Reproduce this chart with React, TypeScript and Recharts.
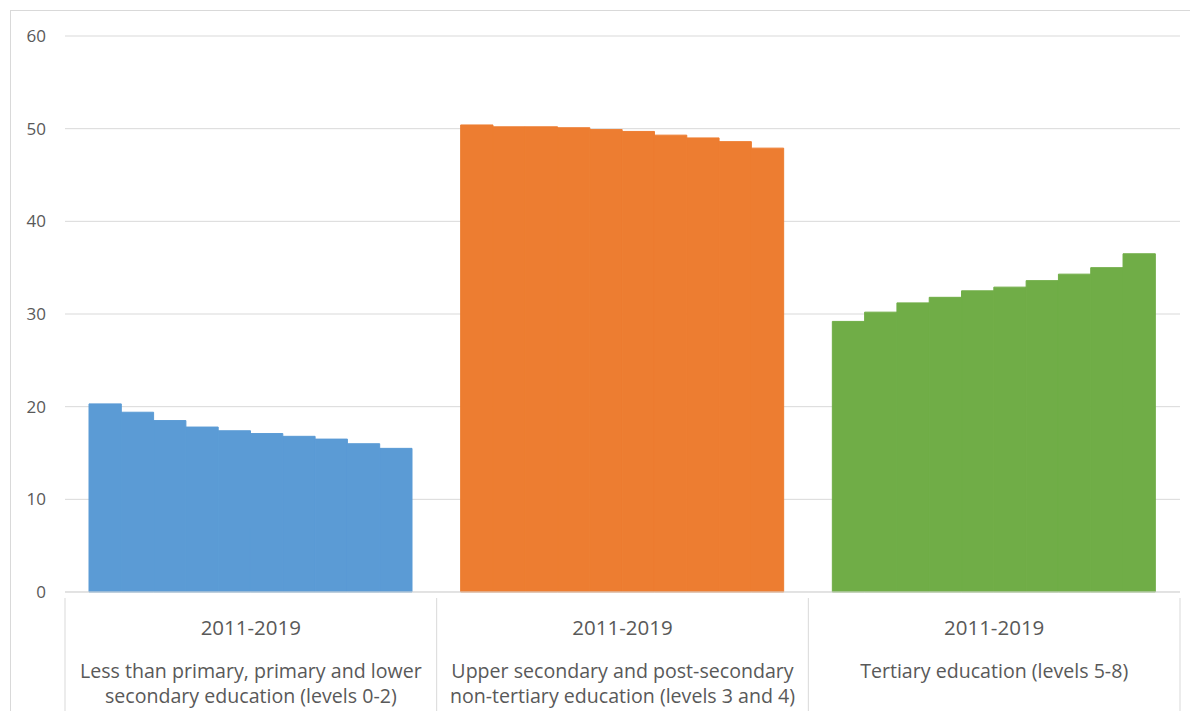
import { BarChart, Bar, Cell, XAxis, YAxis, CartesianGrid } from "recharts";

const categories = [
  "Less than primary, primary and lower secondary education (levels 0-2)",
  "Upper secondary and post-secondary non-tertiary education (levels 3 and 4)",
  "Tertiary education (levels 5-8)",
];
const categoryLines = [
  ["Less than primary, primary and lower", "secondary education (levels 0-2)"],
  ["Upper secondary and post-secondary", "non-tertiary education (levels 3 and 4)"],
  ["Tertiary education (levels 5-8)"],
];
const period = "2011-2019";

// one value per yearly bar, left to right
const lowValues = [20.3, 19.4, 18.5, 17.8, 17.4, 17.1, 16.8, 16.5, 16.0, 15.5];
const midValues = [50.4, 50.2, 50.2, 50.1, 49.9, 49.7, 49.3, 49.0, 48.6, 47.9];
const highValues = [29.2, 30.2, 31.2, 31.8, 32.5, 32.9, 33.6, 34.3, 35.0, 36.5];
const yTicks = [0, 10, 20, 30, 40, 50, 60];

const colors = ["#5b9bd5", "#ed7d31", "#70ad47"];

const W = 1190;
const H = 711;
const LEFT = 65;
const RIGHT = 10;
const BAND = (W - LEFT - RIGHT) / categories.length;
const FONT = "'Open Sans', 'Liberation Sans', sans-serif";

const series = [lowValues, midValues, highValues];
const rows = categories.map((name, i) => {
  const row: Record<string, string | number> = { name };
  series[i].forEach((v, j) => (row[`s${j}`] = v));
  return row;
});
const barKeys = lowValues.map((_, j) => `s${j}`);

function CategoryTick(props: any) {
  const { x, y, payload } = props;
  const i = categories.indexOf(payload.value);
  const lines = categoryLines[i] || [];
  return (
    <g>
      <line x1={x - BAND / 2} x2={x - BAND / 2} y1={y} y2={y + 125} stroke="#d9d9d9" />
      {i === categories.length - 1 && (
        <line x1={x + BAND / 2} x2={x + BAND / 2} y1={y} y2={y + 125} stroke="#d9d9d9" />
      )}
      <text x={x} y={y + 37} textAnchor="middle" fontSize={20.5} fill="#595959" fontFamily={FONT}>
        {period}
      </text>
      {lines.map((l, k) => (
        <text key={k} x={x} y={y + 80 + k * 25} textAnchor="middle" fontSize={19.6} fill="#595959" fontFamily={FONT}>
          {l}
        </text>
      ))}
    </g>
  );
}

export default function App() {
  return (
    <div style={{ position: "absolute", left: 0, top: 0, width: W, height: H, overflow: "hidden", background: "#fff" }}>
      <div
        style={{
          position: "absolute",
          left: 10,
          top: 10,
          width: W,
          height: H,
          border: "1px solid #d9d9d9",
        }}
      />
      <div style={{ position: "absolute", left: 0, top: 0 }}>
        <BarChart
          width={W}
          height={H}
          data={rows}
          margin={{ top: 36, right: RIGHT, bottom: 0, left: 0 }}
          barGap={0}
          barCategoryGap={24}
        >
          <CartesianGrid vertical={false} stroke="#d9d9d9" />
          <XAxis
            dataKey="name"
            height={119}
            tickLine={false}
            axisLine={{ stroke: "#d9d9d9" }}
            tickMargin={0}
            interval={0}
            tick={<CategoryTick />}
          />
          <YAxis
            width={LEFT}
            domain={[0, 60]}
            ticks={yTicks}
            axisLine={false}
            tickLine={false}
            tickSize={0}
            tickMargin={19}
            tick={{ fontSize: 17, fill: "#595959", fontFamily: FONT }}
          />
          {barKeys.map((k) => (
            <Bar key={k} dataKey={k} barSize={32.3} isAnimationActive={false}>
              {rows.map((_, i) => (
                <Cell key={i} fill={colors[i]} stroke={colors[i]} strokeWidth={1} />
              ))}
            </Bar>
          ))}
        </BarChart>
      </div>
    </div>
  );
}
